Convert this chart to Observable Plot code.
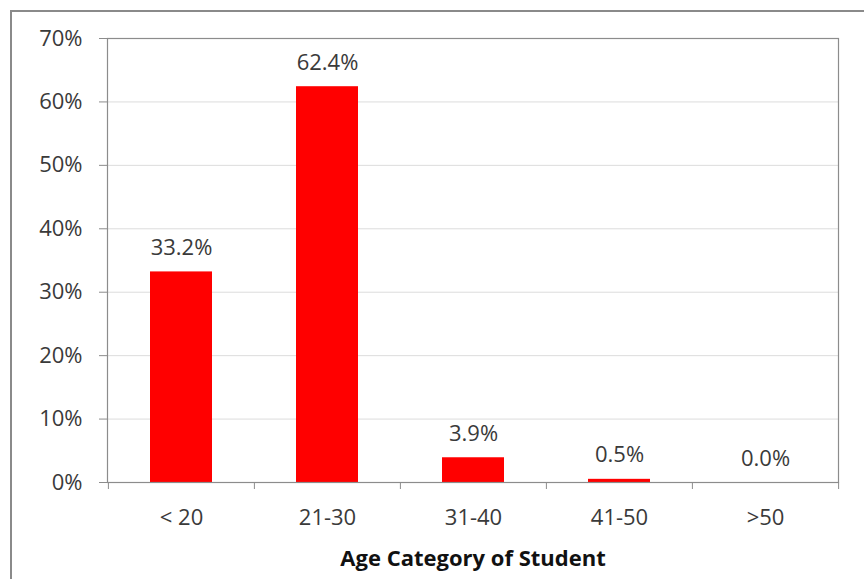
<!DOCTYPE html>
<html>
<head>
<meta charset="utf-8">
<script src="https://cdn.jsdelivr.net/npm/d3@7"></script>
<script src="https://cdn.jsdelivr.net/npm/@observablehq/plot@0.6"></script>
<style>
  html, body { margin: 0; padding: 0; background: #fff; }
  #wrap { position: relative; width: 864px; height: 579px; overflow: hidden; }
  #edge { position: absolute; left: 10px; top: 10px; right: -4px; bottom: -4px;
          border-left: 2px solid #8a8a8a; border-top: 2px solid #8a8a8a; pointer-events: none; }
  #chart { position: absolute; left: 0; top: 0; }
</style>
</head>
<body>
<div id="wrap"><div id="chart"></div><div id="edge"></div></div>
<script>
// Share of students by age group (percent)
const categories = ["< 20", "21-30", "31-40", "41-50", ">50"];
const shares = [33.2, 62.4, 3.9, 0.5, 0.0];
const yTicks = [0, 10, 20, 30, 40, 50, 60, 70];
const axisTitle = "Age Category of Student";

const rows = categories.map((c, i) => ({ category: c, share: shares[i] }));

const font = "'Open Sans', sans-serif";
const textColor = "#3a3a3a";
const lineColor = "#8c8c8c";

const chart = Plot.plot({
  width: 864,
  height: 579,
  marginLeft: 107,
  marginRight: 26,
  marginTop: 38,
  marginBottom: 97,
  style: { fontFamily: font, fontSize: "22px", color: textColor, background: "transparent" },
  x: { type: "band", domain: categories, padding: 0 },
  y: { domain: [0, 70] },
  marks: [
    Plot.gridY(yTicks, { stroke: "#dcdcdc", strokeOpacity: 1 }),
    Plot.barY(rows, { x: "category", y: "share", fill: "#ff0000", insetLeft: 42, insetRight: 42 }),
    Plot.text(rows, {
      x: "category", y: "share", text: d => d.share.toFixed(1) + "%",
      dy: -24, fill: textColor, fontSize: 22, lineAnchor: "middle"
    }),
    Plot.frame({ stroke: lineColor, strokeWidth: 1.2 }),
    Plot.axisY(yTicks, {
      tickSize: 8, tickPadding: 17, stroke: lineColor, fill: textColor,
      tickFormat: d => d + "%", label: null, fontSize: 22
    }),
    Plot.axisX({ tickSize: 0, tickPadding: 27, fill: textColor, label: null, fontSize: 22 }),
    // tick marks at the category boundaries
    Plot.ruleX(categories, { x: d => d, dx: -731 / 10, y1: 0, y2: 0, insetBottom: -7, stroke: lineColor }),
    Plot.ruleX(categories.slice(-1), { x: d => d, dx: 731 / 10, y1: 0, y2: 0, insetBottom: -7, stroke: lineColor }),
    Plot.text([axisTitle], {
      frameAnchor: "bottom", dy: 76, text: d => d, fontWeight: "bold",
      fontSize: 22, fill: "#111", lineAnchor: "middle"
    })
  ]
});

document.getElementById("chart").appendChild(chart);
</script>
</body>
</html>
